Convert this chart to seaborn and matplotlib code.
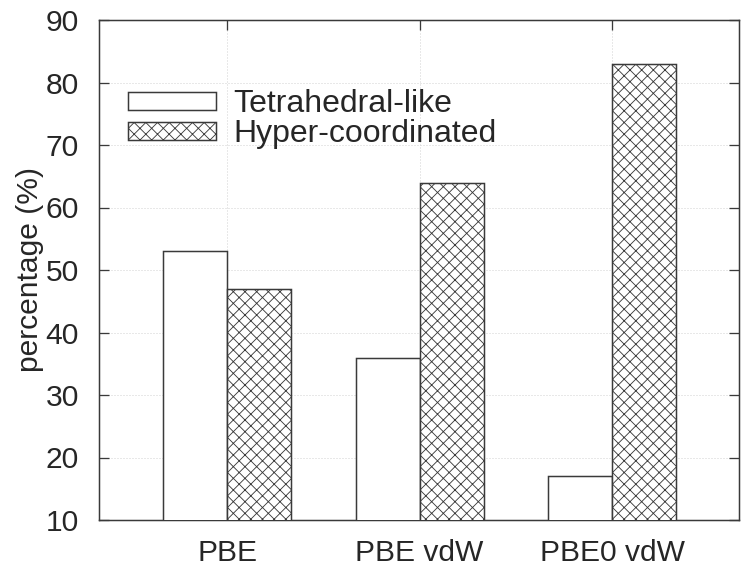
import matplotlib
matplotlib.use("Agg")
import matplotlib.pyplot as plt
from matplotlib.patches import Patch
import seaborn as sns
import pandas as pd

methods = ["PBE", "PBE vdW", "PBE0 vdW"]
series = ["Tetrahedral-like", "Hyper-coordinated"]
tetrahedral = [53, 36, 17]
hyper = [47, 64, 83]
yticks = [10, 20, 30, 40, 50, 60, 70, 80, 90]

df = pd.DataFrame({
    "method": methods * 2,
    "structure": [series[0]] * 3 + [series[1]] * 3,
    "percentage": tetrahedral + hyper,
})

DPI = 70
PX = 72 / DPI          # points per pixel
FS = 30 * PX           # ~30 px text
EDGE = "#3a3a3a"

sns.set_theme(style="white")
plt.rcParams["font.family"] = ["Liberation Sans", "DejaVu Sans"]
plt.rcParams["hatch.linewidth"] = 0.9
plt.rcParams["hatch.color"] = "#4a4a4a"

fig = plt.figure(figsize=(741 / DPI, 566 / DPI), dpi=DPI)
ax = fig.add_axes([99 / 741, 46 / 566, 640 / 741, 500 / 566])

sns.barplot(data=df, x="method", y="percentage", hue="structure",
            hue_order=series, order=methods, palette=["white", "white"],
            width=2 / 3, edgecolor=EDGE, linewidth=1.5 * PX, legend=False,
            ax=ax, zorder=3)

# cross-hatch the hyper-coordinated bars
for patch in ax.containers[1]:
    patch.set_hatch("xx")

ax.set_ylim(10, 90)
ax.set_yticks(yticks)
ax.set_xlim(-2 / 3, 2 + 0.66)
ax.set_xlabel("")
ax.set_ylabel("percentage (%)", fontsize=FS, labelpad=2 * PX)

ax.grid(True, axis="both", color="#d2d2d2", linestyle=(0, (1, 2)), linewidth=1.0 * PX, zorder=0)
ax.set_axisbelow(True)

ax.tick_params(axis="both", direction="in", length=10 * PX, width=1.3 * PX,
               color=EDGE, labelsize=FS, top=True, right=True,
               bottom=True, left=True)
ax.tick_params(axis="y", pad=20 * PX)
ax.tick_params(axis="x", pad=19 * PX)
for s in ax.spines.values():
    s.set_color(EDGE)
    s.set_linewidth(1.5 * PX)
    s.set_visible(True)

handles = [
    Patch(facecolor="white", edgecolor=EDGE, linewidth=1.5 * PX, label=series[0]),
    Patch(facecolor="white", edgecolor=EDGE, linewidth=1.5 * PX, hatch="xx", label=series[1]),
]
ax.legend(handles=handles, loc="upper left", bbox_to_anchor=(0.045, 0.862),
          frameon=False, fontsize=32 * PX, handlelength=2.75, handleheight=0.5,
          handletextpad=0.55, labelspacing=0.0, borderpad=0, borderaxespad=0)

fig.savefig("out.png", dpi=DPI, facecolor="white")
